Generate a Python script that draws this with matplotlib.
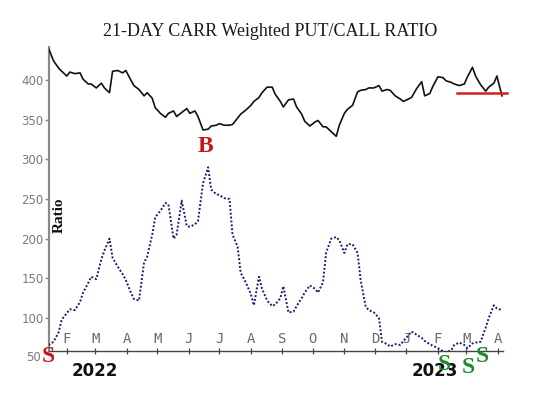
import matplotlib
matplotlib.use('Agg')
import matplotlib.pyplot as plt
import matplotlib.transforms as mtrans
import pandas as pd

# ---------------- data ----------------
start_date = '2022-01-14'
end_date = '2023-04-05'
step_bdays = 3

carr_values = [440, 424, 415, 411, 405, 410, 408, 409, 401, 395,
               395, 390, 396, 390, 384, 411, 412, 409, 412, 400,
               393, 388, 380, 384, 377, 365, 358, 353, 358, 361,
               354, 359, 364, 358, 361, 354, 337, 338, 342, 343,
               345, 343, 343, 344, 352, 357, 362, 368, 373, 378,
               384, 391, 391, 382, 373, 366, 375, 376, 366, 357,
               348, 342, 347, 349, 341, 341, 335, 329, 343, 358,
               363, 368, 385, 387, 388, 390, 390, 393, 386, 388,
               387, 380, 376, 373, 376, 378, 389, 398, 380, 383,
               392, 404, 403, 399, 397, 395, 393, 395, 404, 416,
               405, 394, 386, 391, 396, 405, 380]

ratio_values = [66, 70, 82, 98, 106, 111, 110, 120, 132, 144,
                152, 149, 174, 185, 200, 176, 165, 155, 148, 132,
                124, 122, 170, 177, 205, 227, 235, 245, 243, 200,
                205, 248, 216, 215, 218, 222, 270, 290, 262, 256,
                255, 251, 250, 205, 190, 157, 145, 130, 116, 152,
                137, 122, 115, 117, 125, 140, 107, 108, 115, 125,
                132, 141, 137, 132, 145, 182, 200, 202, 198, 182,
                193, 193, 182, 148, 114, 110, 107, 100, 70, 67,
                64, 67, 66, 71, 78, 83, 79, 75, 71, 67,
                65, 62, 58, 57, 59, 66, 69, 66, 62, 68,
                69, 70, 88, 100, 116, 112, 110]

month_letters = ['F', 'M', 'A', 'M', 'J', 'J', 'A', 'S', 'O', 'N', 'D',
                 'J', 'F', 'M', 'A']
month_starts = pd.date_range('2022-02-01', '2023-04-01', freq='MS')

ytick_values = [100, 150, 200, 250, 300, 350, 400]

year_labels = ['2022', '2023']
year_dates = ['2022-03-01', '2023-01-29']

signal_letters = ['S', 'B', 'S', 'S', 'S']
signal_dates = ['2022-01-14', '2022-06-17', '2023-02-07', '2023-03-03', '2023-03-17']
signal_levels = [51, 316, 41, 38, 51]
signal_colors = ['#c8161d', '#c8161d', '#1f8a2a', '#1f8a2a', '#1f8a2a']

support_level = 383.6
support_dates = ['2023-02-20', '2023-04-10']

# ---------------- figure ----------------
dates = pd.bdate_range(start_date, end_date)[::step_bdays]
n1 = min(len(dates), len(carr_values))
n2 = min(len(dates), len(ratio_values))

fig = plt.figure(figsize=(5.40, 4.04), dpi=100)
ax = fig.add_axes([49 / 540, 1 - 351 / 404, (503 - 49) / 540, (351 - 47) / 404])

ax.plot(dates[:n1], carr_values[:n1], color='#111111', lw=1.2, zorder=3)
ax.plot(dates[:n2], ratio_values[:n2], color='#1c1c70', lw=1.4,
        linestyle=(0, (1, 1)), zorder=3)

ax.plot(pd.to_datetime(support_dates), [support_level, support_level],
        color='#d42020', lw=1.8, clip_on=False, zorder=4)

ax.set_xlim(pd.Timestamp('2022-01-14 12:00'), pd.Timestamp('2023-04-06'))
ax.set_ylim(58.4, 441.6)

for s in ['top', 'right']:
    ax.spines[s].set_visible(False)
ax.spines['left'].set_color('#8a8a8a')
ax.spines['left'].set_linewidth(1.6)
ax.spines['bottom'].set_color('#444444')
ax.spines['bottom'].set_linewidth(1.0)

ax.set_yticks(ytick_values)
ax.set_yticklabels([str(v) for v in ytick_values])
ax.tick_params(axis='y', direction='out', length=3, width=1, color='#8a8a8a',
               labelsize=8.5, labelcolor='#7a7a7a', pad=1)
ax.set_xticks(month_starts)
ax.set_xticklabels([''] * len(month_starts))
ax.tick_params(axis='x', direction='inout', length=5, width=0.9, color='#444444')

xt = mtrans.blended_transform_factory(ax.transData, ax.transAxes)
for d, lab in zip(month_starts, month_letters):
    ax.text(d, 12 / 304, lab, transform=xt, ha='center', va='center',
            fontsize=10, color='#6a6a6a', family='DejaVu Sans Mono')

ax.text(-0.018, 50, '50', transform=ax.get_yaxis_transform(), ha='right',
        va='center', fontsize=8.5, color='#7a7a7a', clip_on=False)

for lab, d in zip(year_labels, year_dates):
    ax.text(pd.Timestamp(d), -20 / 304, lab, transform=xt, ha='center',
            va='center', fontsize=12, fontweight='bold', color='#111111',
            family='DejaVu Sans', clip_on=False)

for lab, d, lv, c in zip(signal_letters, signal_dates, signal_levels, signal_colors):
    ax.text(pd.Timestamp(d), lv, lab, ha='center', va='center', fontsize=17,
            fontweight='bold', color=c, family='Liberation Serif',
            clip_on=False, zorder=5)

ratio_tf = mtrans.blended_transform_factory(fig.transFigure, ax.transData)
ax.text(59 / 540, 230, 'Ratio', transform=ratio_tf, rotation=90, ha='center',
        va='center', fontsize=11, fontweight='bold', family='Liberation Serif',
        color='#111111')

fig.text(270 / 540, 1 - 32 / 404, '21-DAY CARR Weighted PUT/CALL RATIO',
         ha='center', va='center', fontsize=13, family='Liberation Serif',
         color='#1a1a1a')

fig.savefig('out.png', dpi=100)
